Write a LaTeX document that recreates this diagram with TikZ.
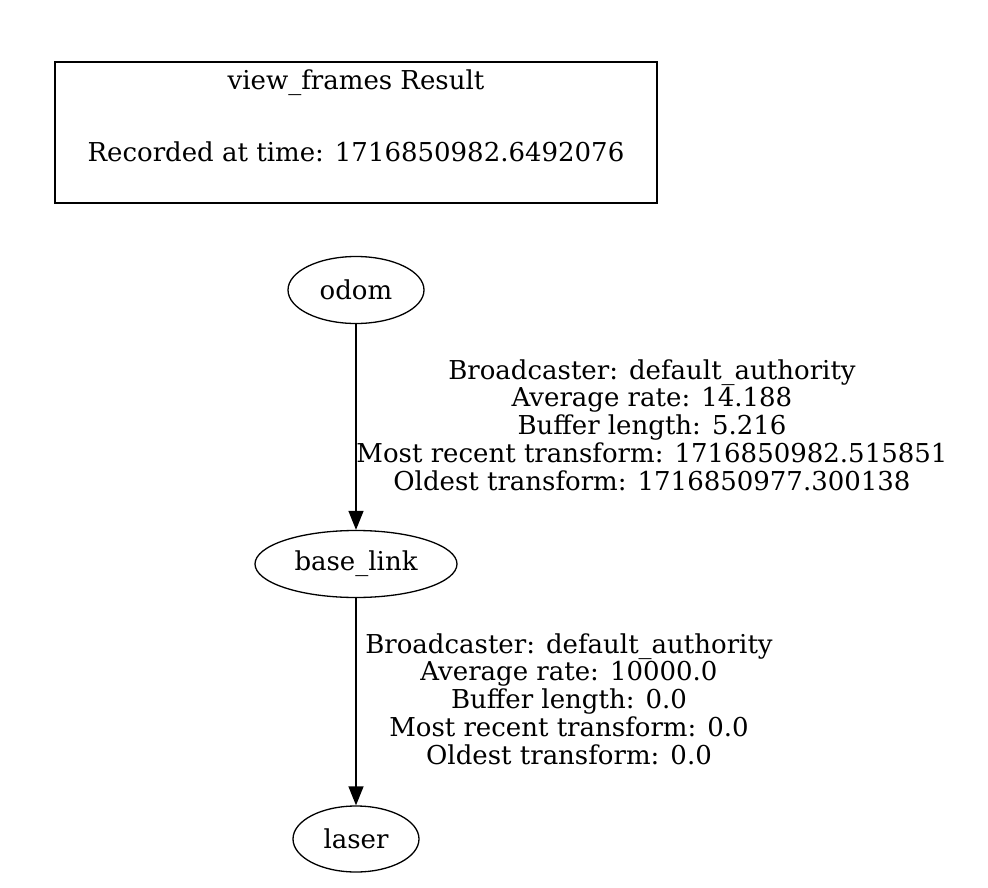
\documentclass[tikz,border=0pt]{standalone}
\usepackage{fontspec}
\setmainfont{DejaVu Serif}
\usetikzlibrary{shapes.geometric,arrows.meta}
\begin{document}
\begin{tikzpicture}[x=1pt,y=-1pt,
  every node/.style={font=\fontsize{26}{27.8}\selectfont},
  frame/.style={ellipse,draw,line width=1.3pt,inner sep=0pt},
  lbl/.style={align=center,inner sep=0pt},
  tf/.style={line width=1.3pt,-{Triangle[length=19pt,width=15pt]}}]
\useasboundingbox (0,0) rectangle (988,888);
\node[draw,line width=2.8pt,minimum width=602pt,minimum height=141pt,inner sep=0pt] (box) at (356,132.5) {};
\node[lbl] (title) at (356,83) {view\_frames Result};
\node[lbl] (rec) at (356,152) {Recorded at time: 1716850982.6492076};
\node[frame,minimum width=136pt,minimum height=67pt] (odom) at (356,290) {odom};
\node[frame,minimum width=202pt,minimum height=67pt] (base) at (356,564) {base\_link};
\node[frame,minimum width=126pt,minimum height=66pt] (laser) at (356,839) {laser};
\draw[tf] (odom) -- (base);
\draw[tf] (base) -- (laser);
\node[lbl] (l1) at (652,425) {Broadcaster: default\_authority\\Average rate: 14.188\\Buffer length: 5.216\\Most recent transform: 1716850982.515851\\Oldest transform: 1716850977.300138};
\node[lbl] (l2) at (569,699) {Broadcaster: default\_authority\\Average rate: 10000.0\\Buffer length: 0.0\\Most recent transform: 0.0\\Oldest transform: 0.0};
\end{tikzpicture}
\end{document}
